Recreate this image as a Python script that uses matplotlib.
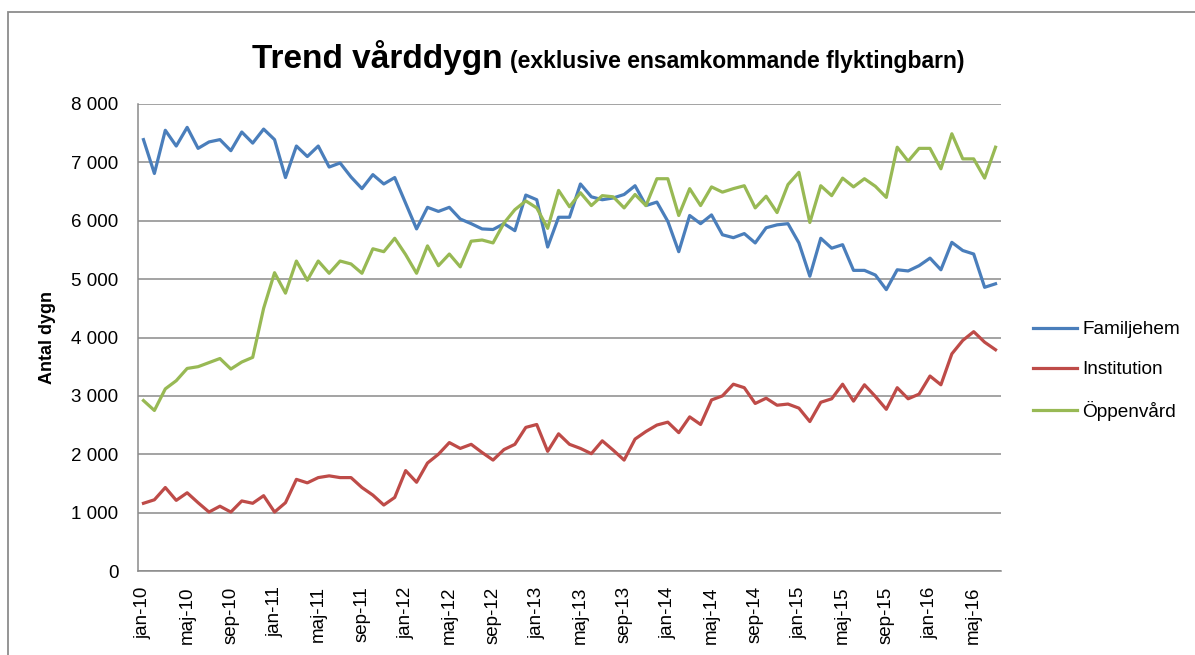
import matplotlib
matplotlib.use("Agg")
import matplotlib.pyplot as plt
from matplotlib.patches import Rectangle
from matplotlib.ticker import FuncFormatter, MultipleLocator

plt.rcParams['font.family'] = ['Liberation Sans', 'DejaVu Sans']

# Month labels jan-10 .. jul-16
month_names = ['jan', 'feb', 'mar', 'apr', 'maj', 'jun',
               'jul', 'aug', 'sep', 'okt', 'nov', 'dec']
years = ['10', '11', '12', '13', '14', '15', '16']
months = [f"{m}-{y}" for y in years for m in month_names][:79]

familjehem = [7390, 6810, 7550, 7280, 7600, 7240, 7350, 7390, 7200, 7520,
              7330, 7570, 7390, 6740, 7280, 7100, 7280, 6920, 6990, 6750,
              6550, 6790, 6630, 6740, 6300, 5860, 6230, 6160, 6230, 6030,
              5950, 5860, 5850, 5950, 5830, 6440, 6360, 5550, 6060, 6060,
              6630, 6410, 6360, 6390, 6450, 6600, 6260, 6320, 5990, 5470,
              6090, 5950, 6100, 5760, 5710, 5780, 5620, 5880, 5930, 5950,
              5620, 5050, 5700, 5530, 5590, 5150, 5150, 5070, 4820, 5160,
              5140, 5230, 5360, 5160, 5630, 5490, 5430, 4860, 4920]

institution = [1160, 1220, 1430, 1210, 1340, 1170, 1010, 1110, 1010, 1200,
               1160, 1290, 1010, 1170, 1570, 1510, 1600, 1630, 1600, 1600,
               1430, 1300, 1130, 1260, 1720, 1520, 1850, 2000, 2200, 2100,
               2170, 2030, 1900, 2080, 2170, 2460, 2510, 2050, 2350, 2170,
               2100, 2010, 2230, 2070, 1900, 2260, 2390, 2500, 2550, 2370,
               2640, 2510, 2930, 3000, 3200, 3140, 2870, 2960, 2840, 2860,
               2790, 2560, 2890, 2950, 3200, 2910, 3190, 2990, 2770, 3140,
               2950, 3030, 3340, 3190, 3720, 3950, 4100, 3920, 3790]

oppenvard = [2920, 2750, 3120, 3260, 3470, 3500, 3570, 3640, 3460, 3580,
             3660, 4500, 5110, 4760, 5310, 4980, 5310, 5100, 5310, 5260,
             5100, 5520, 5470, 5700, 5420, 5100, 5570, 5230, 5430, 5210,
             5650, 5670, 5620, 5960, 6190, 6340, 6220, 5870, 6520, 6240,
             6480, 6260, 6430, 6410, 6220, 6450, 6260, 6720, 6720, 6090,
             6550, 6260, 6580, 6490, 6550, 6600, 6220, 6420, 6140, 6620,
             6830, 5970, 6600, 6430, 6730, 6580, 6720, 6590, 6400, 7260,
             7020, 7240, 7240, 6890, 7490, 7060, 7060, 6730, 7260]

W, H = 1195, 655
fig = plt.figure(figsize=(W / 100, H / 100), dpi=100)
ax = fig.add_axes([138 / W, 1 - 571 / H, (1001 - 138) / W, (571 - 104) / H])

x = range(len(months))
ax.plot(x, familjehem, color='#4A7EBB', lw=2.3, label='Familjehem')
ax.plot(x, institution, color='#BE4B48', lw=2.3, label='Institution')
ax.plot(x, oppenvard, color='#98B954', lw=2.3, label='Öppenvård')

ax.set_xlim(-0.5, len(months) - 0.5)
ax.set_ylim(0, 8000)
ax.yaxis.set_major_locator(MultipleLocator(1000))
ax.yaxis.set_major_formatter(FuncFormatter(lambda v, p: f"{int(v):,}".replace(",", " ")))
ax.grid(axis='y', color='#8a8a8a', lw=1.1)
ax.set_axisbelow(True)

ax.set_xticks(list(x)[::4])
ax.set_xticklabels(months[::4], rotation=90, fontsize=13.5)
ax.tick_params(axis='x', length=0, pad=11)
ax.tick_params(axis='y', length=0, pad=14, labelsize=13.5)

for s in ['top', 'right']:
    ax.spines[s].set_visible(False)
for s in ['left', 'bottom']:
    ax.spines[s].set_color('#8a8a8a')
    ax.spines[s].set_linewidth(1.1)

ax.set_ylabel('Antal dygn', fontsize=13, fontweight='bold')
ax.yaxis.set_label_coords((56 - 138) / (1001 - 138), 0.5)

# Title in two parts
fig.text(503 / W, 1 - 68 / H, 'Trend vårddygn', fontsize=24, fontweight='bold',
         ha='right', va='baseline')
fig.text(510 / W, 1 - 68 / H, '(exklusive ensamkommande flyktingbarn)', fontsize=16.5,
         fontweight='bold', ha='left', va='baseline')

fig.legend(loc='center left', bbox_to_anchor=(1033 / W, 1 - 371 / H), frameon=False,
           fontsize=13.7, handlelength=2.3, handletextpad=0.3, labelspacing=1.2,
           borderpad=0, borderaxespad=0)

# Chart area border
fig.patches.append(Rectangle((8 / W, -0.1), 1.2, 1.1 - 12 / H, transform=fig.transFigure,
                             fill=False, edgecolor='#8c8c8c', lw=1.3))

fig.savefig('out.png', dpi=100)
